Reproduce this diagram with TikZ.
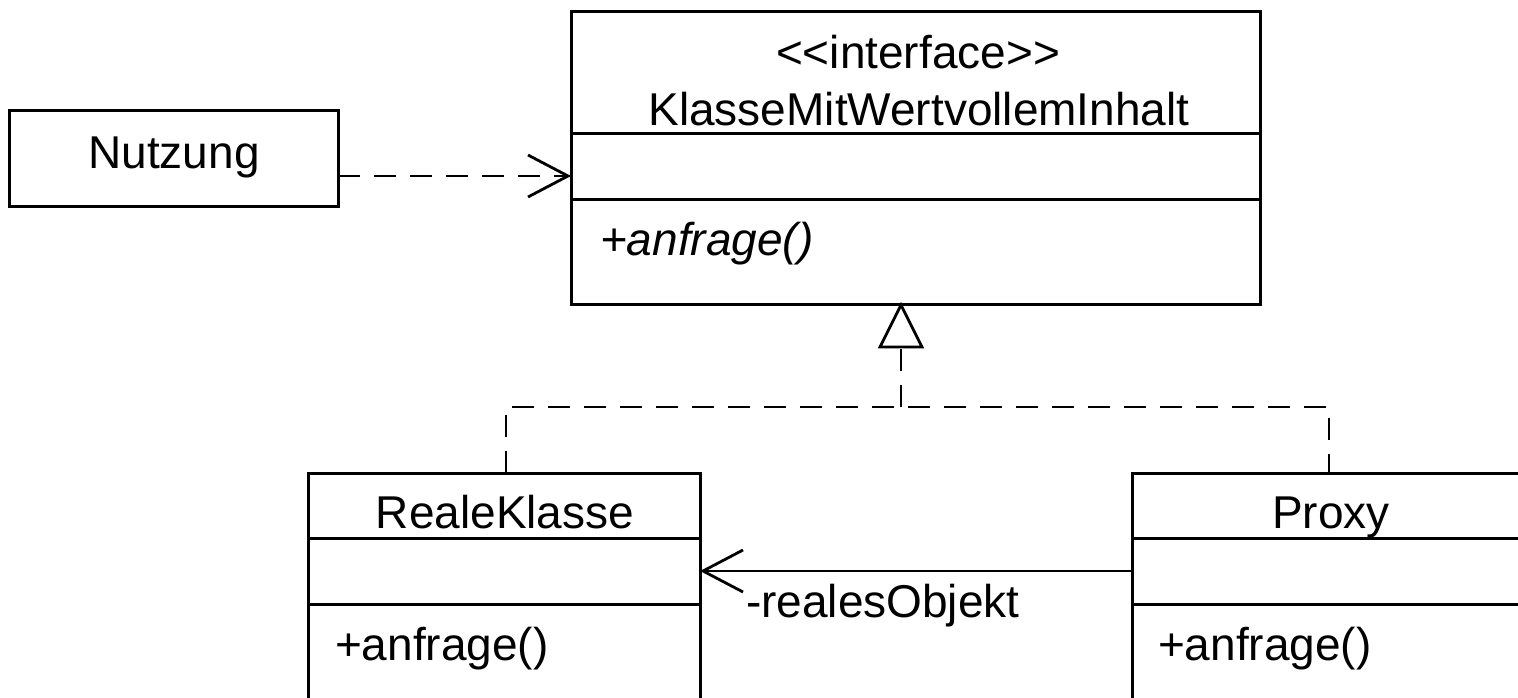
\documentclass[tikz,border=0pt]{standalone}
\usepackage{fontspec}
\setmainfont{Liberation Sans}
\usetikzlibrary{arrows.meta}
\begin{document}
\begin{tikzpicture}[x=1pt,y=-1pt,
  every node/.style={font=\fontsize{46}{55}\selectfont, inner sep=0pt, outer sep=0pt},
  box/.style={draw, line width=3pt, rectangle, anchor=north west},
  lbl/.style={anchor=base},
  lbll/.style={anchor=base west},
  dep/.style={line width=2.8pt, dash pattern=on 22pt off 14pt, -{Straight Barb[length=40pt,width=42pt,line width=2.8pt]}},
  realz/.style={line width=2.8pt, dash pattern=on 22pt off 14pt},
  assoc/.style={line width=2.8pt, -{Straight Barb[length=40pt,width=42pt,line width=2.8pt]}},
  divider/.style={line width=3pt}]
\clip (0,0) rectangle (1518,697);
\fill[white] (0,0) rectangle (1518,697);

% Nutzung
\node[box, minimum width=329pt, minimum height=96pt] (nutz) at (9,110) {};
\node[lbl] (nutzt) at (174,168) {Nutzung};

% Interface
\node[box, minimum width=689pt, minimum height=293pt] (iface) at (571,11) {};
\draw[divider] (iface.west |- 0,133) -- (iface.east |- 0,133);
\draw[divider] (iface.west |- 0,199) -- (iface.east |- 0,199);
\node[lbl] (ist) at (918,68) {<{}<interface>{}>};
\node[lbl] (iname) at (919,125) {KlasseMitWertvollemInhalt};
\node[lbll] (iop) at (600,255) {\itshape +anfrage()};

% RealeKlasse
\node[box, minimum width=392pt, minimum height=260pt] (reale) at (308,473) {};
\draw[divider] (reale.west |- 0,538) -- (reale.east |- 0,538);
\draw[divider] (reale.west |- 0,604) -- (reale.east |- 0,604);
\node[lbl] (realet) at (505,528) {RealeKlasse};
\node[lbll] (realeop) at (335,660) {+anfrage()};

% Proxy
\node[box, minimum width=392pt, minimum height=260pt] (proxy) at (1132,473) {};
\draw[divider] (proxy.west |- 0,538) -- (proxy.east |- 0,538);
\draw[divider] (proxy.west |- 0,604) -- (proxy.east |- 0,604);
\node[lbl] (proxyt) at (1331,528) {Proxy};
\node[lbll] (proxyop) at (1158,660) {+anfrage()};

% Dependency Nutzung -> Interface
\coordinate (ya) at (0,176);
\draw[dep] (nutz.east |- ya) -- (iface.west |- ya);

% Realization
\coordinate (bar) at (901,407);
\coordinate (rk) at (506,473);
\coordinate (px) at (1329,473);
\draw[realz] (rk) |- (bar) -| (px);
\draw[realz] (bar) -- (901,347);
\draw[line width=2.8pt, fill=white, line join=miter] (901,305) -- (922,347) -- (880,347) -- cycle;

% Association Proxy -> RealeKlasse
\coordinate (yb) at (0,571);
\draw[assoc] (proxy.west |- yb) -- (reale.east |- yb);
\node[lbll] (role) at (746,617) {-realesObjekt};
\end{tikzpicture}
\end{document}
